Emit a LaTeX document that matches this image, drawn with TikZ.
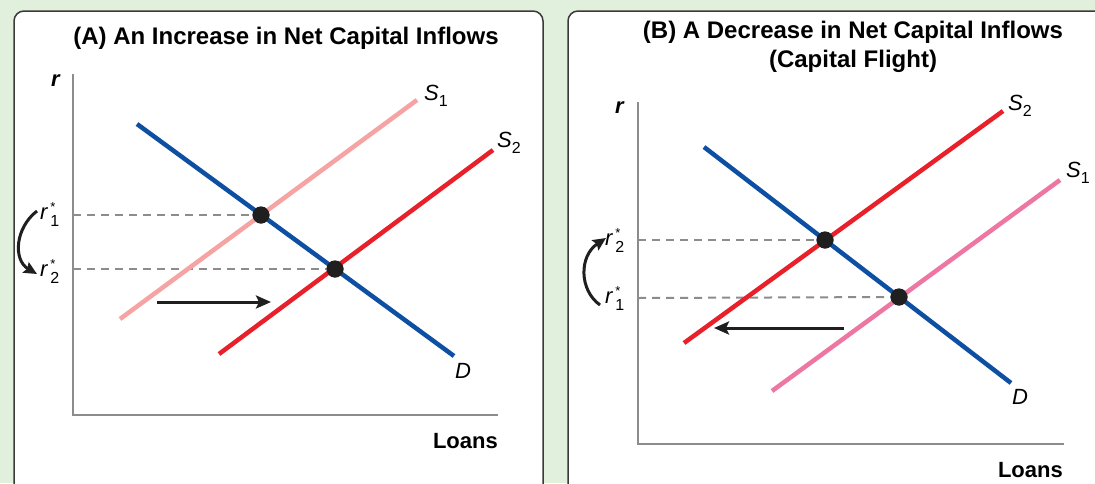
\documentclass[tikz,border=0pt]{standalone}
\usepackage{fontspec}
\setmainfont{Liberation Sans}
\usetikzlibrary{arrows.meta}
\definecolor{bg}{HTML}{E1F0DC}
\definecolor{paleS}{HTML}{F5A3A3}
\definecolor{redS}{HTML}{E8202A}
\definecolor{blueD}{HTML}{0D4FA3}
\definecolor{pinkS}{HTML}{EE76A2}
\definecolor{axisgray}{HTML}{8C8C8C}
\definecolor{frame}{HTML}{3A3A3A}
\newcommand{\slab}[2]{\textit{#1}\raisebox{-6pt}{\fontsize{16}{16}\selectfont #2}}
\newcommand{\rlab}[1]{\textit{r}\kern2pt\raisebox{-7pt}{\fontsize{16}{16}\selectfont\shortstack[l]{\fontsize{13}{10}\selectfont *\\[0pt]\fontsize{16}{16}\selectfont #1}}}
\begin{document}
\begin{tikzpicture}[x=1pt,y=-1pt,
 panel/.style={draw=frame,line width=1.5pt,fill=white,rounded corners=10pt},
 axis/.style={draw=axisgray,line width=2.2pt},
 curve/.style={line width=4.5pt},
 guide/.style={draw=axisgray,line width=2pt,dash pattern=on 8pt off 6pt},
 eq/.style={circle,fill=black!88,inner sep=0pt,minimum size=17pt},
 ttl/.style={font=\fontsize{24}{29}\selectfont\bfseries,align=center,inner sep=0pt},
 lbl/.style={font=\fontsize{22}{26}\selectfont,inner sep=0pt},
 rl/.style={font=\fontsize{22}{26}\selectfont,inner sep=0pt},
 axl/.style={font=\fontsize{22}{26}\selectfont\bfseries,inner sep=0pt},
 shiftarrow/.style={draw=black!88,line width=3pt,-{Stealth[length=15pt,width=13pt,inset=3pt]}},
 movearrow/.style={draw=black!88,line width=3pt,-{Stealth[length=13pt,width=12pt,inset=2pt]}},
]
\useasboundingbox (0,0) rectangle (1095,483);
\clip (0,0) rectangle (1095,483);
\fill[bg] (0,0) rectangle (1095,483);
\path[panel] (14,11) rectangle (543,510);
\path[panel] (568,11) rectangle (1120,510);

% ---------- Panel A ----------
\node[ttl] (A-title) at (286,38) {(A) An Increase in Net Capital Inflows};
\coordinate (A-top) at (73,74);
\coordinate (A-o) at (73,415);
\coordinate (A-right) at (498,415);
\draw[axis] (A-top) -- (A-o) -- (A-right);
\node[axl,anchor=base west] (A-r) at (51,86) {\textit{r}};
\node[axl,anchor=base east] (A-loans) at (498,448) {Loans};

\coordinate (A-y1) at (73,215);
\coordinate (A-y2) at (73,269);
\coordinate (A-s1a) at (120,319);
\coordinate (A-s1b) at (417,100);
\coordinate (A-s2a) at (219,354);
\coordinate (A-s2b) at (493,150);
\coordinate (A-da) at (137,124);
\coordinate (A-db) at (454,356);
\node[eq] (A-e1) at (261,215) {};
\node[eq] (A-e2) at (335,269) {};
\draw[guide] (A-y1) -- (A-e1.center);
\draw[guide] (A-y2) -- (A-e2.center);
\draw[curve,paleS] (A-s1a) -- (A-s1b);
\draw[curve,redS] (A-s2a) -- (A-s2b);
\draw[curve,blueD] (A-da) -- (A-db);
\node[eq] at (A-e1) {};
\node[eq] at (A-e2) {};
\node[lbl,anchor=base west] (A-S1) at (424,100) {\slab{S}{1}};
\node[lbl,anchor=base west] (A-S2) at (497,147) {\slab{S}{2}};
\node[lbl,anchor=base west] (A-D) at (455,378) {\textit{D}};
\node[rl,anchor=base west] (A-r1) at (40,219) {\rlab{1}};
\node[rl,anchor=base west] (A-r2) at (40,276) {\rlab{2}};
\coordinate (A-m0) at (157,302);
\coordinate (A-m1) at (271,302);
\draw[shiftarrow] (A-m0) -- (A-m1);
\coordinate (A-c0) at (37,211);
\coordinate (A-c1) at (37,274);
\draw[movearrow] (A-c0) .. controls (15,228) and (13,260) .. (A-c1);

% ---------- Panel B ----------
\node[ttl] (B-title) at (853,47) {(B) A Decrease in Net Capital Inflows\\(Capital Flight)};
\coordinate (B-top) at (638,102);
\coordinate (B-o) at (638,444);
\coordinate (B-right) at (1064,444);
\draw[axis] (B-top) -- (B-o) -- (B-right);
\node[axl,anchor=base west] (B-r) at (615,113) {\textit{r}};
\node[axl,anchor=base east] (B-loans) at (1063,477) {Loans};

\coordinate (B-y1) at (638,298);
\coordinate (B-y2) at (638,240);
\coordinate (B-s2a) at (684,343);
\coordinate (B-s2b) at (1003,111);
\coordinate (B-s1a) at (772,391);
\coordinate (B-s1b) at (1060,180);
\coordinate (B-da) at (704,147);
\coordinate (B-db) at (1011,383);
\node[eq] (B-e2) at (825,240) {};
\node[eq] (B-e1) at (899,297) {};
\draw[guide] (B-y2) -- (B-e2.center);
\draw[guide] (B-y1) -- (B-e1.center);
\draw[curve,pinkS] (B-s1a) -- (B-s1b);
\draw[curve,redS] (B-s2a) -- (B-s2b);
\draw[curve,blueD] (B-da) -- (B-db);
\node[eq] at (B-e1) {};
\node[eq] at (B-e2) {};
\node[lbl,anchor=base west] (B-S2) at (1008,110) {\slab{S}{2}};
\node[lbl,anchor=base west] (B-S1) at (1066,177) {\slab{S}{1}};
\node[lbl,anchor=base west] (B-D) at (1012,404) {\textit{D}};
\node[rl,anchor=base west] (B-r2) at (605,245) {\rlab{2}};
\node[rl,anchor=base west] (B-r1) at (605,303) {\rlab{1}};
\coordinate (B-m0) at (844,328);
\coordinate (B-m1) at (714,328);
\draw[shiftarrow] (B-m0) -- (B-m1);
\coordinate (B-c0) at (600,305);
\coordinate (B-c1) at (606,238);
\draw[movearrow] (B-c0) .. controls (579,290) and (579,256) .. (B-c1);
\end{tikzpicture}
\end{document}
